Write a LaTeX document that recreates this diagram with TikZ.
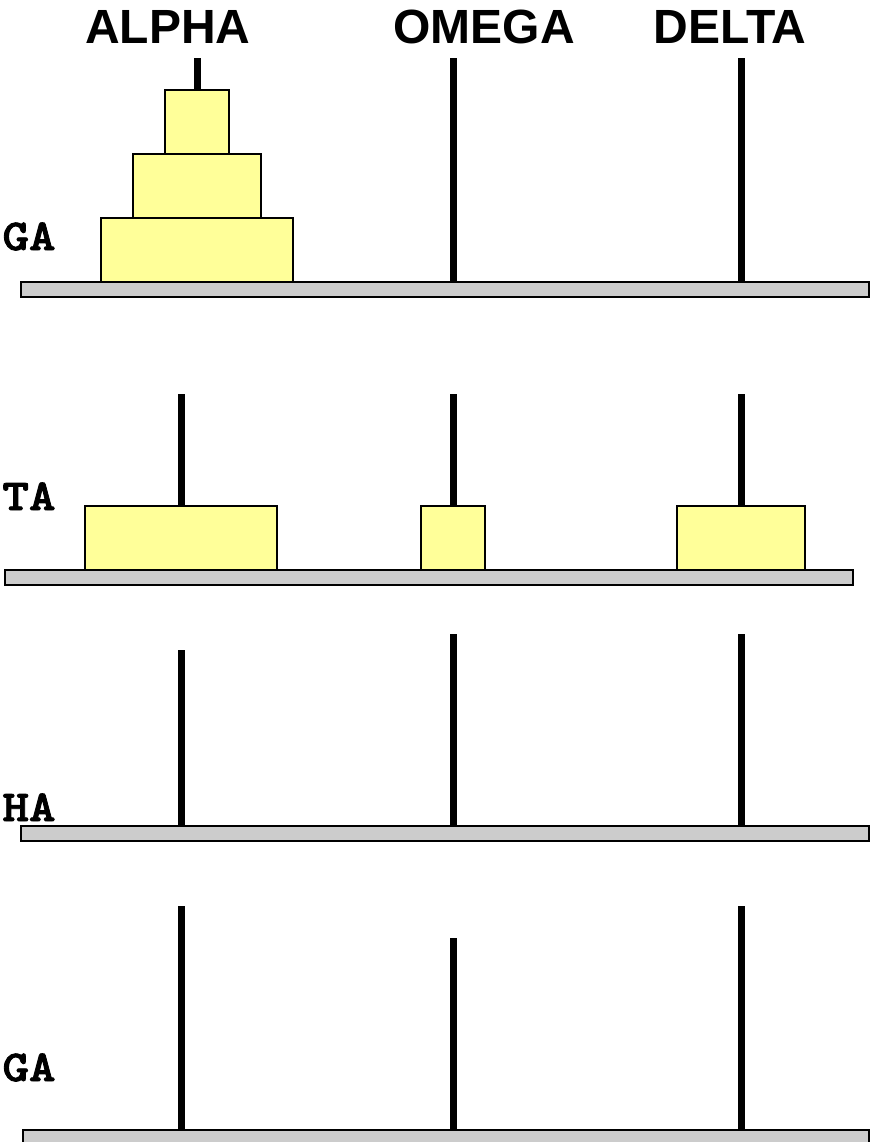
\documentclass[tikz,border=0pt]{standalone}
\usepackage{fontspec}
\newfontfamily\pegfont{Liberation Sans}
\newfontfamily\rowfont{Latin Modern Mono Light}[FakeStretch=1.15, BoldFeatures={FakeBold=2}]
\definecolor{diskyellow}{HTML}{FFFF99}
\definecolor{bargray}{HTML}{CCCCCC}
\tikzset{
  peg/.style={line width=3.5pt},
  disk/.style={draw, fill=diskyellow, line width=1.2pt},
  bar/.style={draw, fill=bargray, line width=1.2pt},
  pegname/.style={font=\pegfont\bfseries\fontsize{24}{24}\selectfont, inner sep=0pt, anchor=base},
  rowname/.style={font=\rowfont\bfseries\fontsize{22}{22}\selectfont, inner sep=0pt, anchor=base east},
}
\begin{document}
\begin{tikzpicture}[x=0.5pt, y=-0.5pt]
  \clip (0,0) rectangle (882,1142);
  % peg names
  \node[pegname] (alpha) at (168,43) {ALPHA};
  \node[pegname] (omega) at (484,43) {OMEGA};
  \node[pegname] (delta) at (730,43) {DELTA};
  % row 1
  \node[rowname] (row1) at (56,250) {GA};
  \foreach \x in {197,453,741}
    \draw[peg] (\x,58) -- (\x,282);
  \draw[bar] (21,282) rectangle (869,297);
  \foreach \w/\t in {32/90,64/154,96/218}
    \draw[disk] (197-\w,\t) rectangle (197+\w,\t+64);
  % row 2
  \node[rowname] (row2) at (56,510) {TA};
  \foreach \x in {181,453,741}
    \draw[peg] (\x,394) -- (\x,570);
  \draw[bar] (5,570) rectangle (853,585);
  \foreach \c/\w in {181/96,453/32,741/64}
    \draw[disk] (\c-\w,506) rectangle (\c+\w,570);
  % row 3
  \node[rowname] (row3) at (56,821) {HA};
  \foreach \x/\t in {181/650,453/634,741/634}
    \draw[peg] (\x,\t) -- (\x,826);
  \draw[bar] (21,826) rectangle (869,841);
  % row 4
  \node[rowname] (row4) at (56,1081) {GA};
  \foreach \x/\t in {181/906,453/938,741/906}
    \draw[peg] (\x,\t) -- (\x,1130);
  \draw[bar] (23,1130) rectangle (869,1160);
\end{tikzpicture}
\end{document}
